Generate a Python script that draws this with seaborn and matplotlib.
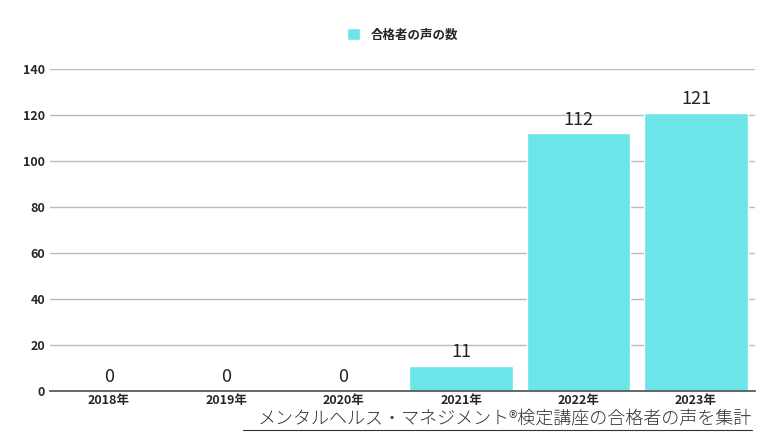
import matplotlib
matplotlib.use("Agg")
import matplotlib.pyplot as plt
import seaborn as sns
import pandas as pd

categories = ["2018年", "2019年", "2020年", "2021年", "2022年", "2023年"]
values = [0, 0, 0, 11, 112, 121]
series_name = "合格者の声の数"
caption = "メンタルヘルス・マネジメント®検定講座の合格者の声を集計"

sns.set_theme(style="white")
plt.rcParams['font.family'] = ['Noto Sans CJK JP', 'DejaVu Sans']

df = pd.DataFrame({"year": categories, "count": values})
fig = plt.figure(figsize=(7.7, 4.33), dpi=100)
ax = fig.add_axes([0.065, 0.097, 0.915, 0.744])
color = "#6ce5e8"
sns.barplot(data=df, x="year", y="count", color=color, width=0.88, ax=ax,
            saturation=1, label=series_name)
ax.set_ylim(0, 140)
ax.set_yticks(range(0, 141, 20))
ax.yaxis.grid(True, color="#bbbbbb", linewidth=1)
ax.set_axisbelow(True)
for s in ["top", "right", "left"]:
    ax.spines[s].set_visible(False)
ax.spines["bottom"].set_color("#555555")
ax.set_xlabel("")
ax.set_ylabel("")
ax.tick_params(axis="both", length=0, labelsize=9)
ax.tick_params(axis="x", pad=2)
for lbl in ax.get_xticklabels() + ax.get_yticklabels():
    lbl.set_fontweight("bold")
for i, v in enumerate(values):
    ax.text(i, v + 2, str(v), ha="center", va="bottom", fontsize=13, color="#222222")
leg = ax.legend(loc="lower center", bbox_to_anchor=(0.5, 1.05), frameon=False,
                fontsize=9, handlelength=1.1, handleheight=1.1)
for t in leg.get_texts():
    t.set_fontweight("bold")
fig.text(0.977, 0.012, caption, ha="right", va="bottom", fontsize=13,
         color="#333333", fontweight="light")
fig.add_artist(plt.Line2D([0.315, 0.977], [0.008, 0.008], color="#333333", linewidth=0.8))
fig.savefig("out.png", dpi=100)
